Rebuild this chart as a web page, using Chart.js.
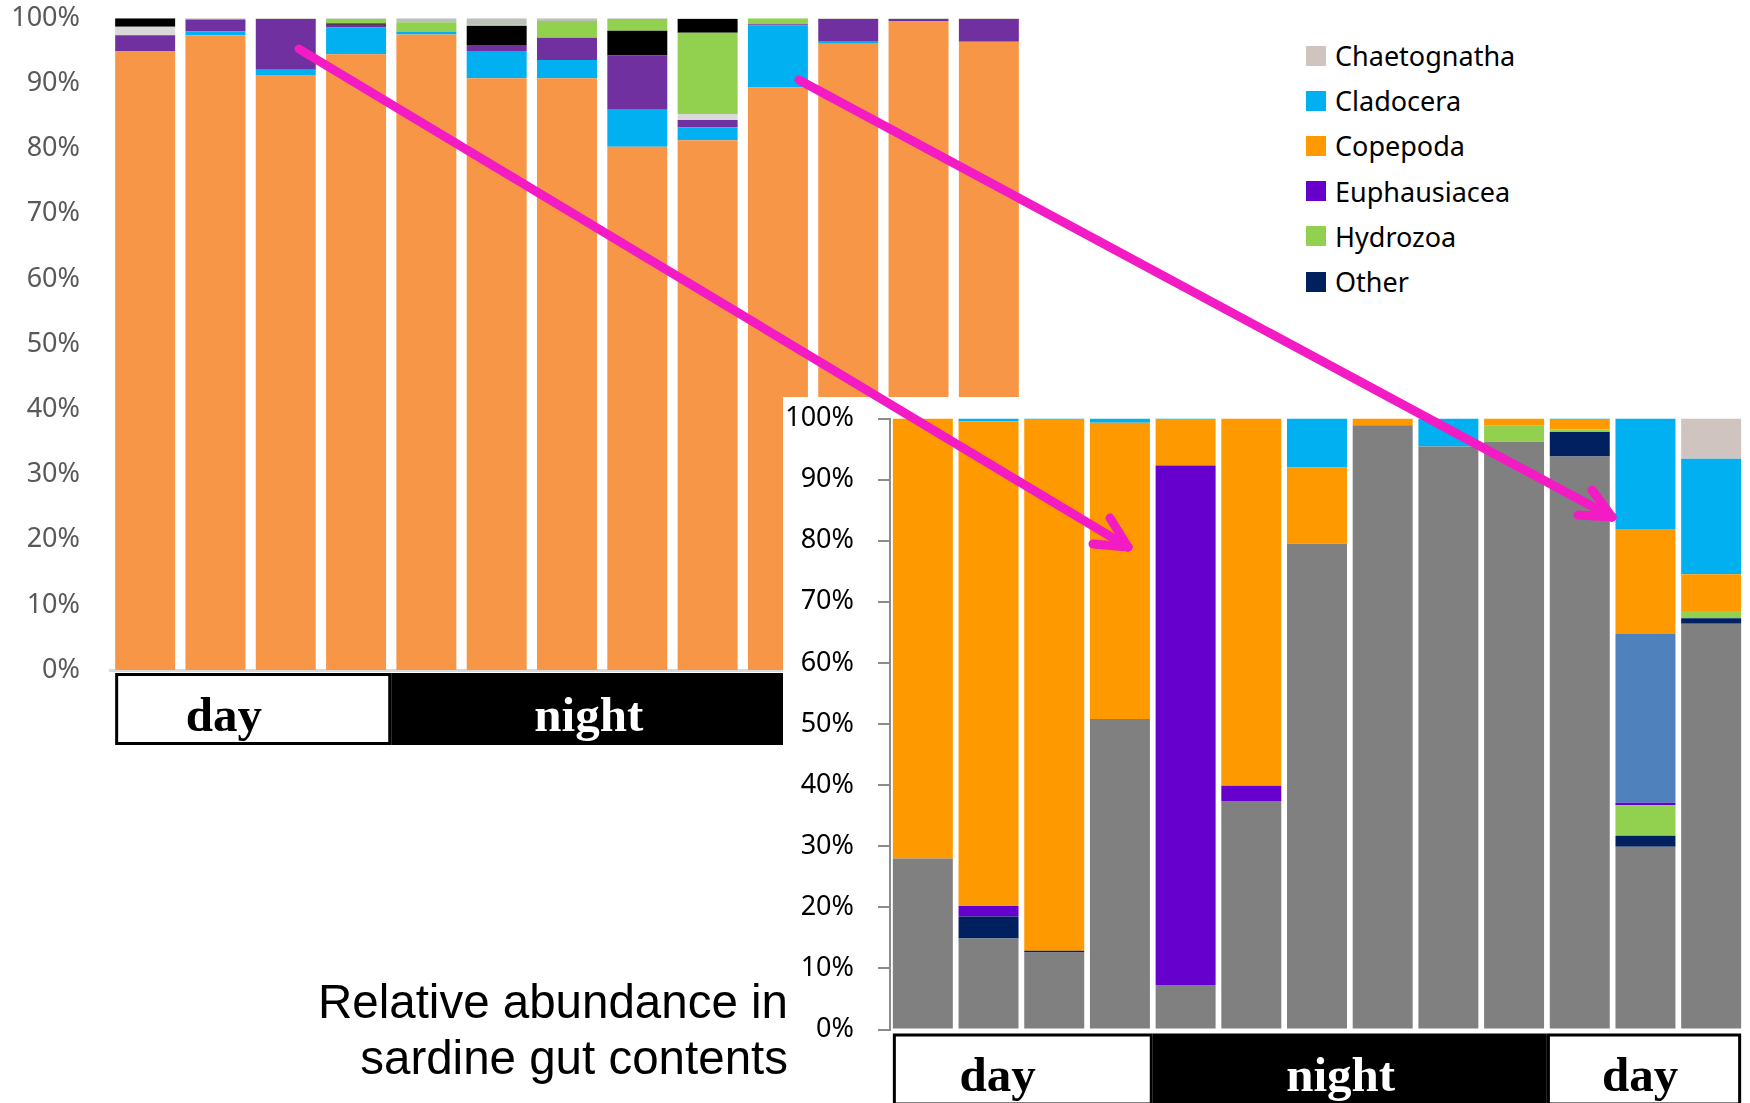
<!DOCTYPE html>
<html>
<head>
<meta charset="utf-8">
<title>Relative abundance in sardine gut contents</title>
<script src="https://cdn.jsdelivr.net/npm/chart.js@4.4.1/dist/chart.umd.min.js"></script>
<style>
  html, body { margin: 0; padding: 0; background: #fff; }
  #stage { position: relative; width: 1750px; height: 1103px; overflow: hidden; background: #fff; }
  #leftChart { position: absolute; left: 0; top: 0; }
  #rightChart { position: absolute; left: 783px; top: 397px; background: #fff; }
  #caption {
    position: absolute; right: 962px; top: 974px; text-align: right;
    font-family: "Liberation Sans", Arial, sans-serif; font-size: 47.5px; line-height: 56px; color: #000;
    white-space: nowrap;
  }
  #legend { position: absolute; left: 1306px; top: 33px; font-family: "Noto Sans", sans-serif; font-size: 27px; color: #000; }
  #legend .item { display: flex; align-items: center; height: 45.2px; }
  #legend .swatch { width: 20px; height: 20px; margin-right: 9px; }
  #arrows { position: absolute; left: 0; top: 0; pointer-events: none; }
</style>
</head>
<body>
<div id="stage">
  <canvas id="leftChart" width="1030" height="760"></canvas>
  <canvas id="rightChart" width="967" height="706"></canvas>
  <div id="caption">Relative abundance in<br>sardine gut contents</div>
  <div id="legend"></div>
  <svg id="arrows" width="1750" height="1103">
    <g stroke="#F21BC4" stroke-width="9" stroke-linecap="round" fill="none">
      <line x1="299" y1="49" x2="1128" y2="547"/>
      <line x1="1128" y1="547" x2="1110" y2="518"/>
      <line x1="1128" y1="547" x2="1093" y2="544"/>
      <line x1="799" y1="80" x2="1612" y2="517"/>
      <line x1="1612" y1="517" x2="1592" y2="490"/>
      <line x1="1612" y1="517" x2="1578" y2="515"/>
    </g>
  </svg>
</div>
<script>
// ---- Samples (13 stomachs per panel) ----
const samples = ['1','2','3','4','5','6','7','8','9','10','11','12','13'];
const yTicks = [0, 10, 20, 30, 40, 50, 60, 70, 80, 90, 100];

// ---- Upper-left panel: percent composition, bottom to top ----
const leftCopepoda     = [95.0, 97.4, 91.3, 94.5, 97.5, 90.8, 90.8, 80.3, 81.3, 89.4, 96.1, 99.6, 96.4];
const leftCladocera    = [0.0, 0.6, 0.8, 4.1, 0.4, 4.2, 2.8, 5.8, 2.0, 9.5, 0.4, 0.0, 0.0];
const leftEuphausiacea = [2.4, 1.8, 7.8, 0.4, 0.0, 0.9, 3.4, 8.2, 1.1, 0.2, 3.4, 0.3, 3.5];
const leftChaetognatha = [1.3, 0.0, 0.0, 0.0, 0.0, 0.0, 0.0, 0.0, 0.9, 0.0, 0.0, 0.0, 0.0];
const leftOther        = [1.3, 0.0, 0.0, 0.2, 0.0, 2.9, 0.0, 3.8, 0.0, 0.0, 0.0, 0.0, 0.0];
const leftHydrozoa     = [0.0, 0.0, 0.0, 0.7, 1.5, 0.2, 2.6, 1.8, 12.5, 0.9, 0.0, 0.0, 0.0];
const leftOtherTop     = [0.0, 0.0, 0.0, 0.0, 0.0, 0.0, 0.0, 0.0, 2.1, 0.0, 0.0, 0.0, 0.0];
const leftMisc         = [0.0, 0.2, 0.1, 0.1, 0.6, 1.0, 0.4, 0.1, 0.1, 0.0, 0.1, 0.1, 0.1];
const leftPeriods = [
  { text: 'day',   from: 0, to: 3,  at: 1.12, dark: false },
  { text: 'night', from: 4, to: 12, at: 6.31, dark: true }
];

// ---- Lower-right panel: percent composition, bottom to top ----
const rightUnidentified = [28.0, 14.9, 12.6, 50.8, 7.3, 37.4, 79.5, 98.9, 95.4, 96.2, 93.8, 29.9, 66.4];
const rightOther        = [0.0, 3.6, 0.3, 0.0, 0.0, 0.0, 0.0, 0.0, 0.0, 0.0, 4.0, 1.8, 0.9];
const rightHydrozoa     = [0.0, 0.0, 0.0, 0.0, 0.0, 0.0, 0.0, 0.0, 0.0, 2.6, 0.4, 5.0, 1.2];
const rightEuphausiacea = [0.0, 1.7, 0.0, 0.0, 85.0, 2.5, 0.0, 0.0, 0.0, 0.0, 0.0, 0.4, 0.0];
const rightFishEggs     = [0.0, 0.0, 0.0, 0.0, 0.0, 0.0, 0.0, 0.0, 0.0, 0.0, 0.0, 27.7, 0.0];
const rightCopepoda     = [72.0, 79.3, 86.9, 48.5, 7.6, 60.1, 12.5, 1.1, 0.0, 1.2, 1.6, 17.1, 6.0];
const rightCladocera    = [0.0, 0.5, 0.2, 0.7, 0.1, 0.0, 8.0, 0.0, 4.6, 0.0, 0.2, 18.1, 18.9];
const rightChaetognatha = [0.0, 0.0, 0.0, 0.0, 0.0, 0.0, 0.0, 0.0, 0.0, 0.0, 0.0, 0.0, 6.6];
const rightPeriods = [
  { text: 'day',   from: 0,  to: 3,  at: 1.14,  dark: false },
  { text: 'night', from: 4,  to: 9,  at: 6.36,  dark: true },
  { text: 'day',   from: 10, to: 12, at: 10.92, dark: false }
];
const legendNames = ['Chaetognatha', 'Cladocera', 'Copepoda', 'Euphausiacea', 'Hydrozoa', 'Other'];

// Day/night strip drawn under the category axis
const periodStrip = {
  id: 'periodStrip',
  afterDraw(chart, args, opts) {
    const { ctx, chartArea } = chart;
    const xs = chart.scales.x;
    const n = chart.data.labels.length;
    const barW = chart.getDatasetMeta(0).data[0].width;
    const px = i => xs.getPixelForValue(i);
    const top = chartArea.bottom + opts.gap;
    const h = opts.height;
    ctx.save();
    opts.periods.forEach(p => {
      const x0 = p.from === 0 ? px(0) - barW / 2 : (px(p.from - 1) + px(p.from)) / 2;
      const x1 = p.to === n - 1 ? px(n - 1) + barW / 2 : (px(p.to) + px(p.to + 1)) / 2;
      if (p.dark) {
        ctx.fillStyle = '#000';
        ctx.fillRect(x0, top, x1 - x0, h);
      } else {
        ctx.fillStyle = '#fff';
        ctx.fillRect(x0, top, x1 - x0, h);
        ctx.strokeStyle = '#000';
        ctx.lineWidth = 3;
        ctx.strokeRect(x0 + 1.5, top + 1.5, x1 - x0 - 3, h - 3);
      }
      ctx.fillStyle = p.dark ? '#fff' : '#000';
      ctx.font = 'bold 49px "Liberation Serif", "Times New Roman", serif';
      ctx.textAlign = 'center';
      ctx.textBaseline = 'middle';
      ctx.fillText(p.text, px(p.at), top + h / 2 + 9);
    });
    ctx.restore();
  }
};

function ds(label, data, color, barPct) {
  return { label, data, backgroundColor: color, borderWidth: 0, barPercentage: barPct, categoryPercentage: 1 };
}

// keep the value axis from reserving extra room above/below the plot
function fixValueAxis(width) {
  return s => { s.width = width; s.paddingTop = 12; s.paddingBottom = 12; };
}

Chart.defaults.animation = false;

// Upper-left panel
new Chart(document.getElementById('leftChart'), {
  type: 'bar',
  data: {
    labels: samples,
    datasets: [
      ds('Copepoda', leftCopepoda, '#F79646', 0.853),
      ds('Cladocera', leftCladocera, '#00B0F0', 0.853),
      ds('Euphausiacea', leftEuphausiacea, '#7030A0', 0.853),
      ds('Chaetognatha', leftChaetognatha, '#D9D9D9', 0.853),
      ds('Other', leftOther, '#000000', 0.853),
      ds('Hydrozoa', leftHydrozoa, '#92D050', 0.853),
      ds('Other (upper)', leftOtherTop, '#000000', 0.853),
      ds('Unsorted', leftMisc, '#BFBFBF', 0.853)
    ]
  },
  options: {
    responsive: false,
    layout: { padding: { top: 18.3, right: 6, bottom: 90, left: 0 } },
    plugins: {
      legend: { display: false },
      tooltip: { enabled: false },
      periodStrip: { periods: leftPeriods, gap: 3, height: 72 }
    },
    scales: {
      x: {
        stacked: true,
        ticks: { display: false },
        grid: { display: false, drawTicks: false },
        border: { display: true, color: '#D9D9D9', width: 3 },
        afterFit: s => { s.height = 0; }
      },
      y: {
        stacked: true, min: 0, max: 100,
        afterBuildTicks: s => { s.ticks = yTicks.map(v => ({ value: v })); },
        ticks: { callback: v => v + '%', color: '#595959', padding: 30,
                 font: { family: '"Noto Sans", sans-serif', size: 27 } },
        grid: { display: false, drawTicks: false },
        border: { display: false },
        afterFit: fixValueAxis(110)
      }
    }
  },
  plugins: [periodStrip]
});

// Lower-right panel
const rightChart = new Chart(document.getElementById('rightChart'), {
  type: 'bar',
  data: {
    labels: samples,
    datasets: [
      ds('Unidentified', rightUnidentified, '#808080', 0.913),
      ds('Other', rightOther, '#002060', 0.913),
      ds('Hydrozoa', rightHydrozoa, '#92D050', 0.913),
      ds('Euphausiacea', rightEuphausiacea, '#6600CC', 0.913),
      ds('Fish eggs', rightFishEggs, '#4F81BD', 0.913),
      ds('Copepoda', rightCopepoda, '#FF9900', 0.913),
      ds('Cladocera', rightCladocera, '#00B0F0', 0.913),
      ds('Chaetognatha', rightChaetognatha, '#D0C4C0', 0.913)
    ]
  },
  options: {
    responsive: false,
    layout: { padding: { top: 21.5, right: 6, bottom: 73.5, left: 0 } },
    plugins: {
      legend: { display: false },
      tooltip: { enabled: false },
      periodStrip: { periods: rightPeriods, gap: 4, height: 72 }
    },
    scales: {
      x: {
        stacked: true,
        display: true,
        ticks: { display: false },
        grid: { display: false, drawTicks: false },
        border: { display: false },
        afterFit: s => { s.height = 0; }
      },
      y: {
        stacked: true, min: 0, max: 100,
        afterBuildTicks: s => { s.ticks = yTicks.map(v => ({ value: v })); },
        ticks: { callback: v => v + '%', color: '#000', padding: 24,
                 font: { family: '"Noto Sans", sans-serif', size: 27 } },
        grid: { display: true, drawOnChartArea: false, drawTicks: true, tickLength: 12, color: '#8C8C8C', lineWidth: 2 },
        border: { display: true, color: '#8C8C8C', width: 2 },
        afterFit: fixValueAxis(107)
      }
    }
  },
  plugins: [periodStrip]
});

// Legend built from the lower-right panel's datasets
const legendEl = document.getElementById('legend');
legendNames.forEach(name => {
  const d = rightChart.data.datasets.find(x => x.label === name);
  const item = document.createElement('div');
  item.className = 'item';
  const sw = document.createElement('span');
  sw.className = 'swatch';
  sw.style.background = d.backgroundColor;
  const tx = document.createElement('span');
  tx.textContent = name;
  item.appendChild(sw);
  item.appendChild(tx);
  legendEl.appendChild(item);
});
</script>
</body>
</html>
